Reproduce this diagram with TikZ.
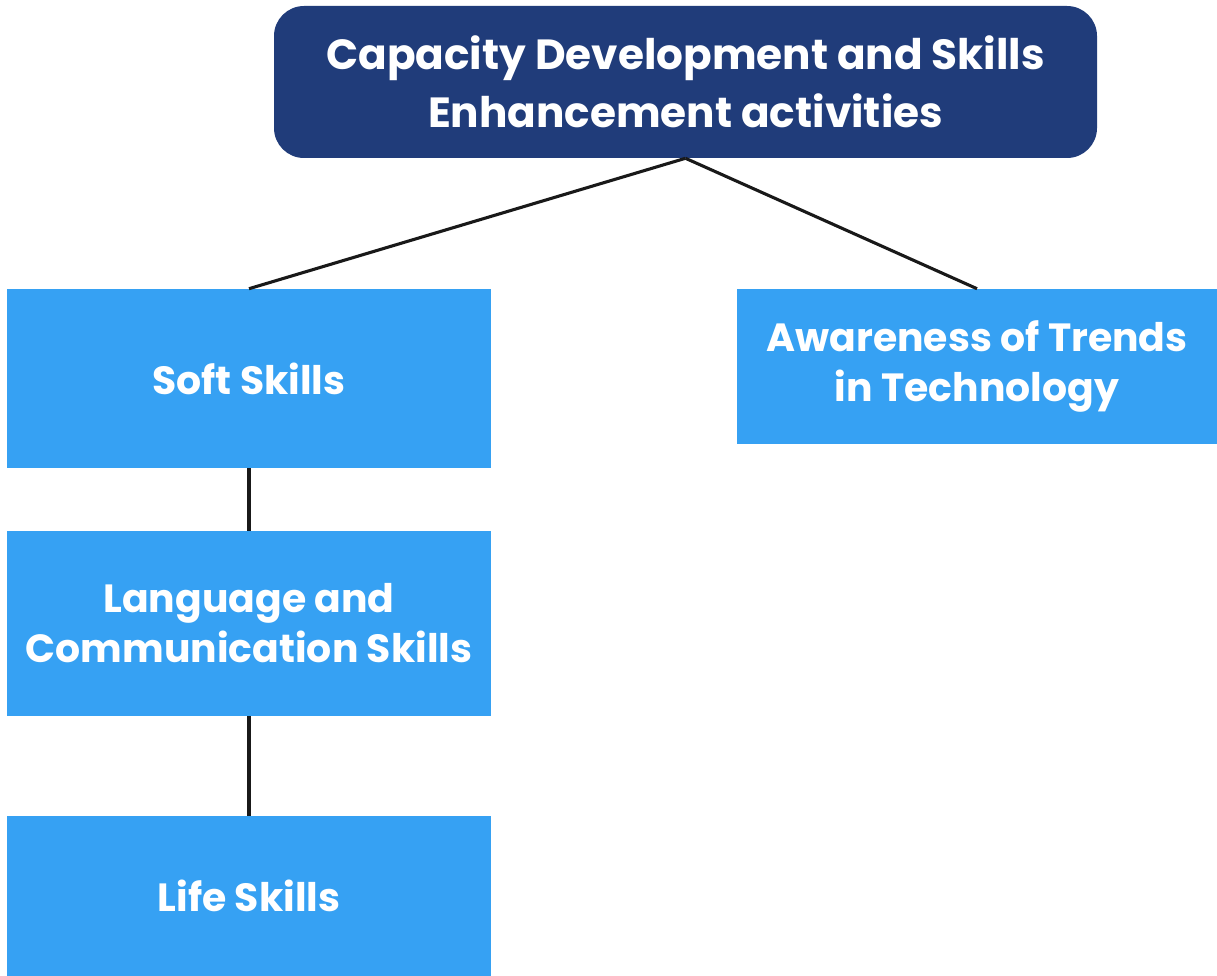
\documentclass[tikz,border=0pt]{standalone}
\usepackage{fontspec}
\setmainfont{Poppins}[BoldFont={* Bold}]
\usepackage{tikz}
\usetikzlibrary{positioning}
\definecolor{navy}{HTML}{203C7A}
\definecolor{skyblue}{HTML}{36A1F3}

\begin{document}
\begin{tikzpicture}[
    topbox/.style={fill=navy, rounded corners=0.75cm, minimum width=20.575cm, minimum height=3.8cm, text=white, align=center, font=\bfseries\fontsize{30}{41}\selectfont},
    skillbox/.style={fill=skyblue, minimum width=12.1cm, text=white, align=center, font=\bfseries\fontsize{28}{35.5}\selectfont},
    link/.style={draw=black!90, line width=2.2pt}
]
        \useasboundingbox (0, 0) rectangle (30.425, -24.4);
        \node [topbox] (Top) at (17.1375, -2.05) {Capacity Development and Skills\\Enhancement activities};
        \node [skillbox, minimum height=4.475cm] (Soft) at (6.225, -9.4625) {Soft Skills};
        \node [skillbox, minimum height=4.625cm] (Lang) at (6.225, -15.5875) {Language and\\Communication Skills};
        \node [skillbox, minimum height=4cm] (Life) at (6.225, -22.4) {Life Skills};
        \node [skillbox, minimum width=12cm, minimum height=3.875cm] (Aware) at (24.425, -9.1625) {Awareness of Trends\\in Technology};
        \draw [link] (Top.south) -- (Soft.north); 
        \draw [link] (Top.south) -- (Aware.north); 
        \draw [link] (Soft) -- (Lang); 
        \draw [link] (Lang) -- (Life); 
\end{tikzpicture}
\end{document}
